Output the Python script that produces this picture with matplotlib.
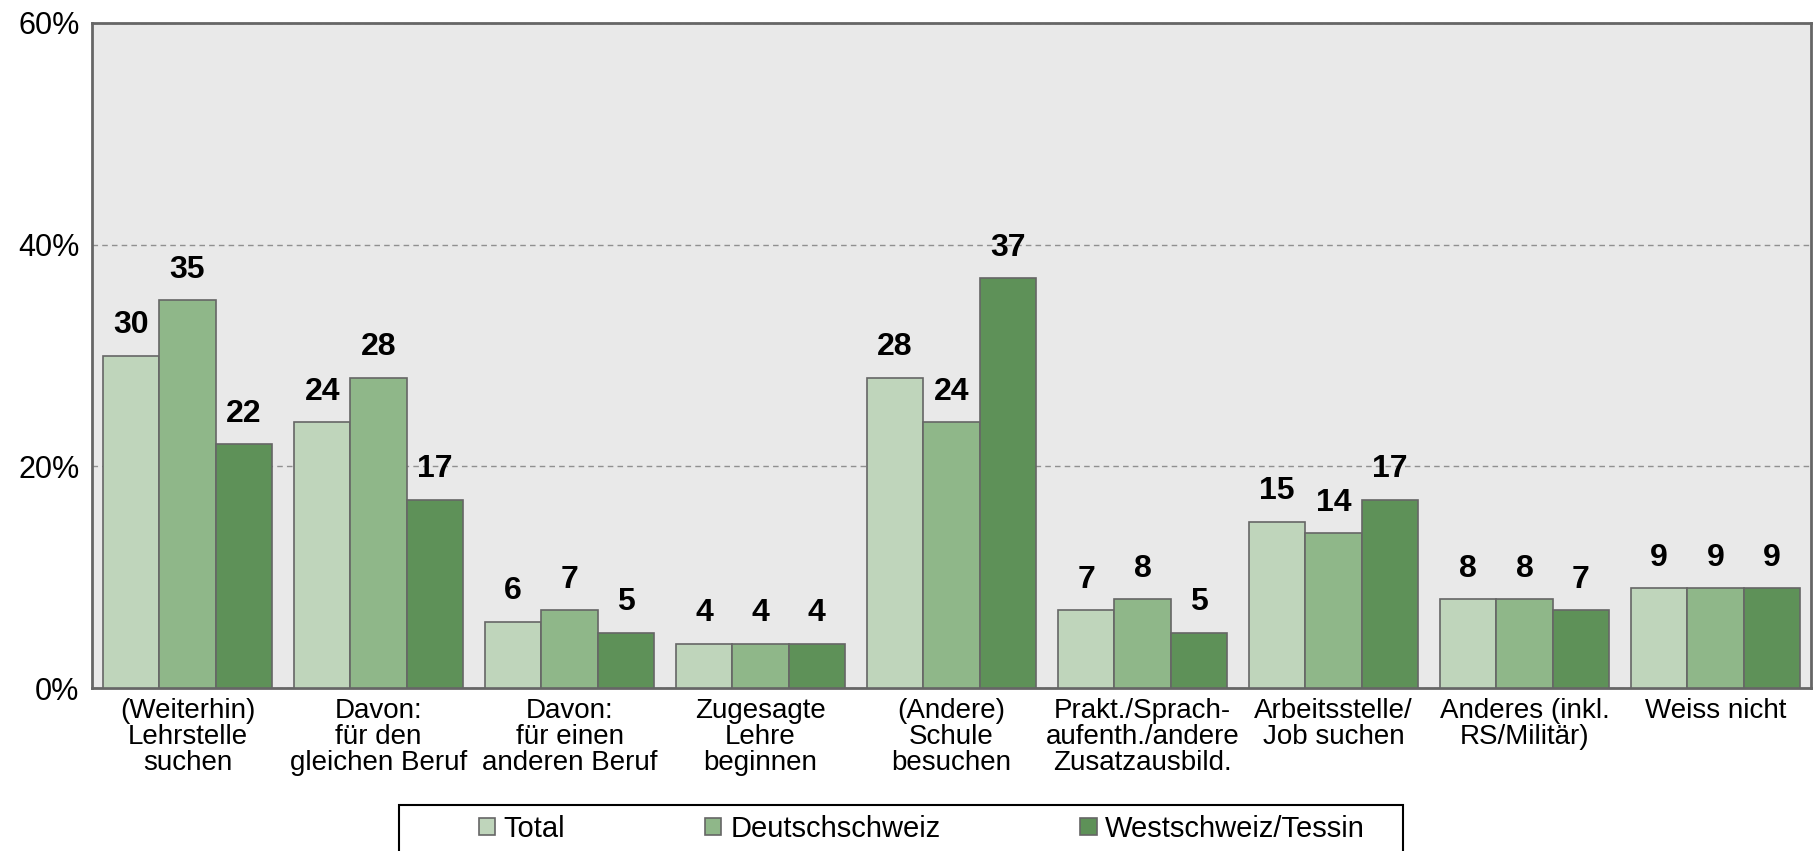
import numpy as np
import matplotlib
matplotlib.use('Agg')
import matplotlib.pyplot as plt
from matplotlib.patches import Rectangle

plt.rcParams['font.family'] = ['Liberation Sans', 'DejaVu Sans']

# Categories and shares (in %) per region
categories = ['(Weiterhin)\nLehrstelle\nsuchen',
              'Davon:\nfür den\ngleichen Beruf',
              'Davon:\nfür einen\nanderen Beruf',
              'Zugesagte\nLehre\nbeginnen',
              '(Andere)\nSchule\nbesuchen',
              'Prakt./Sprach-\naufenth./andere\nZusatzausbild.',
              'Arbeitsstelle/\nJob suchen',
              'Anderes (inkl.\nRS/Militär)',
              'Weiss nicht']
total = [30, 24, 6, 4, 28, 7, 15, 8, 9]
deutschschweiz = [35, 28, 7, 4, 24, 8, 14, 8, 9]
westschweiz = [22, 17, 5, 4, 37, 5, 17, 7, 9]

series = [('Total', total, '#bfd5bb'),
          ('Deutschschweiz', deutschschweiz, '#8fb789'),
          ('Westschweiz/Tessin', westschweiz, '#5e9158')]

W, H = 1813, 851
fig = plt.figure(figsize=(W/100, H/100), dpi=100)
ax = fig.add_axes([92/W, 1 - 688/H, (1811 - 92)/W, (688 - 23)/H])
ax.set_facecolor('#e9e9e9')

x = np.arange(len(categories))
w = 0.295
for i, (name, vals, col) in enumerate(series):
    pos = x + (i - 1) * w
    bars = ax.bar(pos, vals, w, color=col, edgecolor='#666666',
                  linewidth=1.2, label=name, zorder=3)
    for b, v in zip(bars, vals):
        ax.annotate(str(v), (b.get_x() + b.get_width()/2, v),
                    xytext=(0, 11), textcoords='offset points',
                    ha='center', va='bottom', fontsize=23,
                    fontweight='bold', color='black')

# Axes, ticks, grid
ax.set_xlim(-0.5, len(categories) - 0.5)
ax.set_ylim(0, 60)
ax.set_yticks([0, 20, 40, 60])
ax.set_yticklabels(['0%', '20%', '40%', '60%'])
ax.set_xticks(x)
ax.set_xticklabels(categories, linespacing=1.0)
ax.tick_params(axis='both', length=0, colors='black')
ax.tick_params(axis='x', labelsize=20, pad=7)
ax.tick_params(axis='y', labelsize=22, pad=9)
ax.yaxis.grid(True, linestyle=(0, (4, 3)), color='#909090',
              linewidth=1.0, zorder=0)
for s in ax.spines.values():
    s.set_color('#666666')
    s.set_linewidth(2)

# Legend box at the bottom (runs off the lower figure edge)
fig.patches.append(Rectangle((399/W, 1 - 880/H), (1403 - 399)/W, 75/H,
                             transform=fig.transFigure, fill=False,
                             edgecolor='black', linewidth=1.5))
leg = fig.legend(loc='center left', ncol=3,
                 bbox_to_anchor=(479/W, 1 - 829/H),
                 fontsize=21, frameon=False,
                 handlelength=0.55, handleheight=0.55,
                 handletextpad=0.3, columnspacing=4.8,
                 borderpad=0, borderaxespad=0)
for t in leg.get_texts():
    t.set_color('black')

fig.savefig('out.png', dpi=100)
